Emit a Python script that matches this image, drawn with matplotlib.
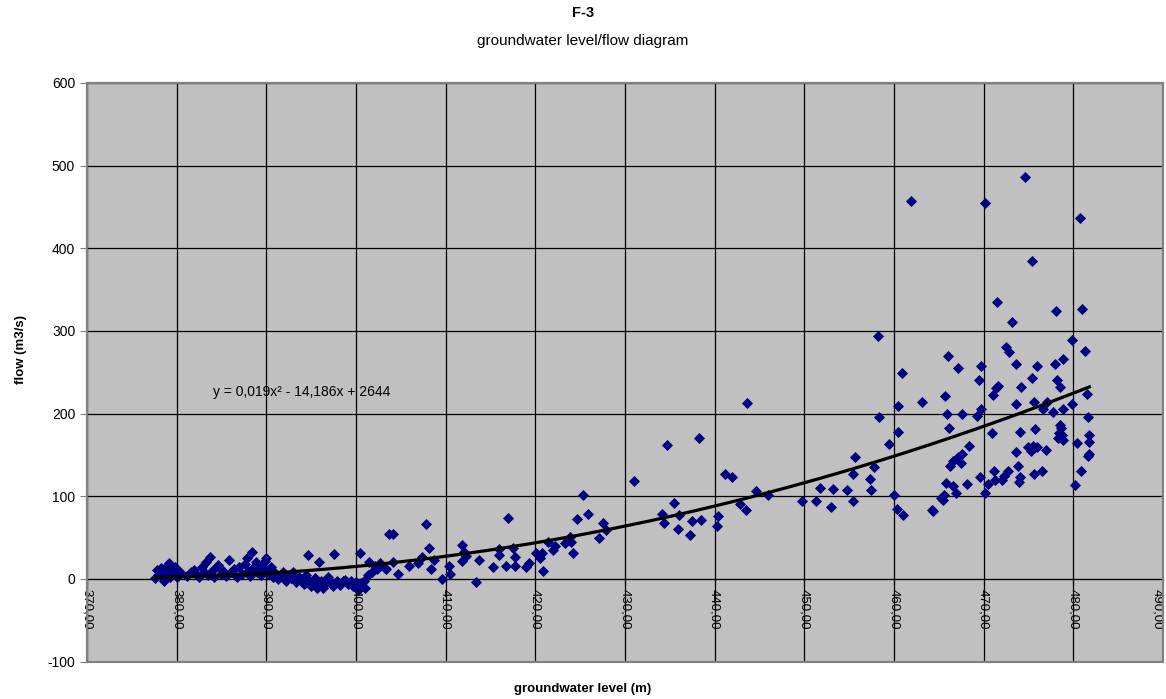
import numpy as np
import matplotlib.pyplot as plt
from matplotlib.patches import Rectangle
from matplotlib.transforms import offset_copy

plt.rcParams['font.family'] = ['Liberation Sans', 'DejaVu Sans']
plt.rcParams['axes.unicode_minus'] = False

# groundwater level (m) / flow (m3/s)
level_low = [377.6, 377.8, 378.0, 378.2, 378.4, 378.6, 378.8, 379.0, 379.1, 379.3, 379.4, 379.6, 379.8, 380.0, 380.4,
             381.2, 381.6, 381.9, 382.2, 382.5, 382.8, 383.0, 383.3, 383.5, 383.7, 384.0, 384.2, 384.6, 384.9, 385.2,
             385.5, 385.8, 386.1, 386.4, 386.7, 387.0, 387.3, 387.6, 387.8, 388.0, 388.2, 388.4, 388.6, 388.8, 389.0,
             389.2, 389.4, 389.6, 389.8, 390.0, 390.0, 390.2,
             390.5, 390.8, 391.0, 391.3, 391.6, 391.9, 392.2, 392.5, 392.8, 393.0, 393.3, 393.6, 393.9, 394.2, 394.4,
             394.6, 394.8, 395.0, 395.2, 395.4, 395.7, 395.9, 396.1, 396.3, 396.6, 396.9,
             397.2, 397.4, 397.6, 397.9, 398.2, 398.5, 398.8, 399.1, 399.4, 399.7, 400.0, 400.2, 400.4, 400.6, 400.9,
             401.0, 401.3, 401.5, 401.8, 402.1, 402.4, 402.7, 403.2, 403.7]
flow_low = [1, 11, 6, 13, 4, -3, 9, 17, 19, 3, 11, 7, 14, 2, 8,
            4, 9, 11, 6, 3, 14, 8, 21, 5, 27, 11, 3, 17, 6, 10,
            4, 23, 8, 12, 3, 15, 6, 18, 25, 10, 4, 33, 14, 20, 9,
            16, 5, 12, 22, 25, 11, 6,
            15, 3, 7, 0, 5, 8, -2, 4, 1, 8, -4, 3, -1, -6, 5,
            29, -3, -8, -5, 1, -11, 21, -2, -11, -6, 2,
            -4, -8, 30, -2, -7, -3, -1, -6, -2, -9, -4, -13, 31, -5, -2,
            -11, 5, 21, 8, 16, 12, 19, 13, 54]

level_mid = [403.3, 404.1, 404.1, 404.7, 405.9, 406.9, 407.4, 407.8, 408.1, 408.4, 408.7, 409.6, 410.4, 410.5,
             411.8, 411.8, 412.0, 412.3, 413.4, 413.7, 415.3, 415.9, 416.0, 416.7, 417.0, 417.5, 417.7, 417.7,
             419.0, 419.3, 420.1, 420.5, 420.8, 420.9, 421.4, 422.0, 422.2, 423.3, 423.9, 424.0, 424.2, 424.7,
             425.3, 425.9, 427.1, 427.5, 427.9, 431.0, 434.1, 434.3, 434.7, 435.5, 435.9, 436.0, 437.2, 437.5,
             438.2, 438.5, 440.3, 440.4, 441.1, 441.9, 442.8, 443.5, 443.6, 444.6, 446.0, 449.7, 451.3, 451.8,
             453.0, 453.2, 454.8, 455.4, 455.4, 455.7, 457.3, 457.4, 457.8, 458.2, 458.3, 459.4]
flow_mid = [12, 55, 21, 6, 16, 19, 26, 66, 37, 12, 23, 0, 16, 6,
            41, 22, 33, 28, -4, 23, 14, 36, 29, 16, 74, 38, 26, 16,
            14, 19, 31, 25, 31, 10, 45, 35, 40, 43, 51, 45, 31, 72,
            102, 79, 50, 68, 59, 118, 79, 68, 162, 92, 60, 77, 53, 70,
            170, 71, 64, 76, 127, 123, 91, 83, 213, 106, 102, 94, 94, 110,
            87, 109, 108, 94, 127, 148, 121, 108, 135, 294, 196, 163]

level_high = [460.0, 460.3, 461.0, 460.4, 460.4, 460.9, 461.9, 463.1, 464.2, 464.4, 465.3, 465.5, 465.8, 465.6,
              465.7, 465.9, 466.0, 466.1, 466.2, 466.6, 466.6, 466.9, 467.1, 467.1, 467.5, 467.6, 467.6, 468.2,
              468.4, 469.3, 469.5, 469.6, 469.7, 469.7, 470.1, 470.2, 470.5, 470.9, 471.0, 471.2, 471.3, 471.4,
              471.6, 471.5, 472.0, 472.3, 472.5, 472.8, 472.7, 473.2, 473.6, 473.6, 473.6, 473.9,
              474.6, 474.2, 474.1, 474.1, 473.8, 475.5, 475.0, 475.3, 475.4, 475.4, 475.6, 475.7, 475.6, 476.0,
              475.9, 476.5, 476.6, 476.9, 477.1, 477.7, 478.1, 478.0, 478.2, 478.5, 478.4, 478.3, 478.5, 478.7,
              478.9, 478.6, 478.8, 478.9, 479.9, 479.9, 480.2, 480.4, 480.8, 480.9, 481.0, 481.3, 481.6, 481.8,
              481.5, 481.6, 481.7, 481.7]
flow_high = [102, 85, 77, 178, 209, 249, 457, 214, 83, 82, 98, 95, 116, 101,
             221, 200, 270, 183, 137, 113, 143, 104, 255, 148, 140, 151, 200, 115,
             161, 197, 241, 123, 257, 206, 455, 104, 115, 177, 222, 130, 120, 231,
             233, 335, 120, 125, 281, 274, 130, 311, 260, 153, 212, 117,
             486, 232, 178, 123, 137, 161, 160, 155, 385, 243, 214, 181, 127, 257,
             160, 131, 205, 156, 214, 202, 324, 260, 241, 232, 177, 170, 186, 174,
             266, 182, 205, 168, 289, 212, 114, 164, 437, 131, 327, 276, 149, 151,
             224, 196, 174, 166]

levels = np.array(level_low + level_mid + level_high)
flows = np.array(flow_low + flow_mid + flow_high)

x_ticks = np.arange(370, 491, 10)
y_ticks = np.arange(-100, 601, 100)

fig = plt.figure(figsize=(11.66, 6.99), dpi=100)
ax = fig.add_axes([0.0746, 0.0534, 0.9228, 0.8281])
ax.set_facecolor('#c0c0c0')

ax.scatter(levels, flows, marker='D', s=32, color='#000080', linewidths=0, zorder=3)

# 2nd order polynomial trendline
coef = np.polyfit(levels, flows, 2)
xs = np.linspace(levels.min(), levels.max(), 200)
ax.plot(xs, np.polyval(coef, xs), color='black', lw=2.3, zorder=4)

ax.text(384.0, 226, 'y = 0,019x\u00b2 - 14,186x + 2644', fontsize=10, va='center', ha='left')

ax.set_xlim(370, 490)
ax.set_ylim(-100, 600)
ax.set_xticks(x_ticks)
ax.set_yticks(y_ticks)
ax.set_xticklabels([])
ax.grid(True, color='black', lw=0.9)
ax.set_axisbelow(True)

# x labels sit under the axis line at y = 0
lbl_tr = offset_copy(ax.transData, fig=fig, x=0, y=-7, units='points')
for v in x_ticks:
    ax.text(v, 0, f'{v:.2f}'.replace('.', ','), transform=lbl_tr, rotation=-90,
            ha='right' if v == x_ticks[-1] else 'center', va='top', fontsize=9.5)

for s in ['top', 'right', 'left']:
    ax.spines[s].set_color('#808080')
    ax.spines[s].set_linewidth(1.5)
ax.spines['bottom'].set_position(('data', 0))
ax.spines['bottom'].set_color('black')
ax.add_patch(Rectangle((0, 0), 1, 1, transform=ax.transAxes, fill=False,
                       edgecolor='#808080', lw=1.5, zorder=5, clip_on=False))

ax.tick_params(axis='x', length=4)
ax.tick_params(axis='y', labelsize=10, length=5, color='#808080')

fig.text(0.5, 0.982, 'F-3', ha='center', va='center', fontsize=10.5, fontweight='bold')
fig.text(0.5, 0.942, 'groundwater level/flow diagram', ha='center', va='center', fontsize=11)
fig.text(0.5, 0.014, 'groundwater level (m)', ha='center', va='center', fontsize=9.5, fontweight='bold')
fig.text(0.018, 0.50, 'flow (m3/s)', ha='center', va='center', rotation=90, fontsize=9.5, fontweight='bold')

fig.savefig('out.png', dpi=100)
